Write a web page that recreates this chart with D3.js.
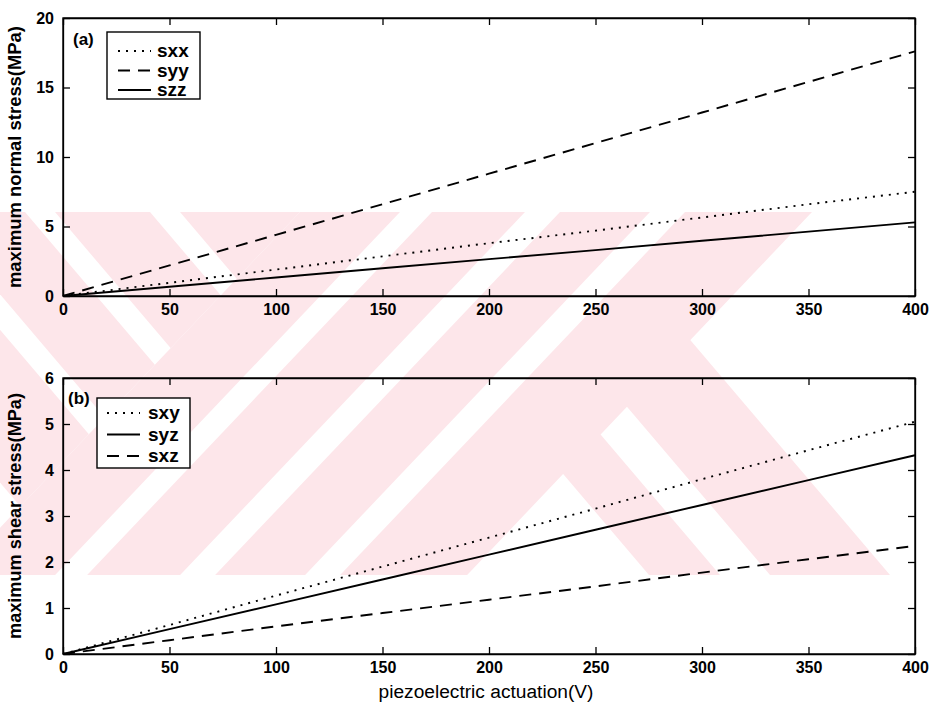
<!DOCTYPE html>
<html>
<head>
<meta charset="utf-8">
<script src="https://cdn.jsdelivr.net/npm/d3@7"></script>
<style>
  body { margin: 0; background: #fff; }
  text { font-family: "Liberation Sans", Arial, sans-serif; fill: #000; }
  .axis text { font-size: 16px; font-weight: bold; }
  .axis path, .axis line { stroke: #000; stroke-width: 1.3; }
  .title { font-size: 18px; font-weight: bold; }
  .legend text { font-size: 19px; font-weight: bold; }
</style>
</head>
<body>
<div id="chart"></div>
<script>
// values
var volts = [0, 50, 100, 150, 200, 250, 300, 350, 400];

var sxx = [0, 0.95, 1.9, 2.85, 3.8, 4.7, 5.65, 6.6, 7.5];
var syy = [0, 2.2, 4.4, 6.6, 8.8, 11.0, 13.2, 15.4, 17.6];
var szz = [0, 0.67, 1.33, 2.0, 2.65, 3.3, 3.97, 4.63, 5.3];

var sxy = [0, 0.63, 1.27, 1.9, 2.53, 3.16, 3.8, 4.43, 5.05];
var syz = [0, 0.54, 1.08, 1.62, 2.16, 2.7, 3.24, 3.78, 4.32];
var sxz = [0, 0.3, 0.6, 0.89, 1.18, 1.47, 1.77, 2.06, 2.35];

var xTicks = [0, 50, 100, 150, 200, 250, 300, 350, 400];
var normalTicks = [0, 5, 10, 15, 20];
var shearTicks = [0, 1, 2, 3, 4, 5, 6];

(function() {
  var width = 933, height = 717,
      left = 63, right = 915;

  var svg = d3.select("#chart")
    .append("svg")
    .attr("width", width)
    .attr("height", height);

  // pink stripes of the scanned watermark, behind everything
  drawWatermark(svg);

  var xPositionScale = d3.scaleLinear().domain([0, 400]).range([left, right]);

  var dash = { dotted: "2,6", dashed: "12,8", solid: null };

  var panels = [
    { top: 18, bottom: 296, max: 20, ticks: normalTicks, tag: "(a)",
      label: "maximum normal stress(MPa)", labelLen: 262,
      series: [
        { name: "sxx", values: sxx, style: "dotted" },
        { name: "syy", values: syy, style: "dashed" },
        { name: "szz", values: szz, style: "solid" }
      ],
      legend: { x: 107, y: 32, w: 93, h: 67, tagX: 73, tagY: 39, lineX: 118, textX: 157, rowY: 51, rowGap: 19.5 } },
    { top: 378, bottom: 654, max: 6, ticks: shearTicks, tag: "(b)",
      label: "maximum shear stress(MPa)", labelLen: 246,
      series: [
        { name: "sxy", values: sxy, style: "dotted" },
        { name: "syz", values: syz, style: "solid" },
        { name: "sxz", values: sxz, style: "dashed" }
      ],
      legend: { x: 97, y: 398, w: 93, h: 70, tagX: 68, tagY: 398, lineX: 107, textX: 148, rowY: 413, rowGap: 21.5 } }
  ];

  panels.forEach(function(p) {
    var yPositionScale = d3.scaleLinear().domain([0, p.max]).range([p.bottom, p.top]);
    var g = svg.append("g");

    // inward ticks on all four sides
    g.append("g").attr("class", "axis")
      .attr("transform", "translate(0," + p.bottom + ")")
      .call(d3.axisBottom(xPositionScale).tickValues(xTicks).tickSizeInner(-7).tickSizeOuter(0).tickPadding(8));
    g.append("g").attr("class", "axis")
      .attr("transform", "translate(0," + p.top + ")")
      .call(d3.axisTop(xPositionScale).tickValues(xTicks).tickSizeInner(-7).tickSizeOuter(0).tickFormat(""));
    g.append("g").attr("class", "axis")
      .attr("transform", "translate(" + left + ",0)")
      .call(d3.axisLeft(yPositionScale).tickValues(p.ticks).tickFormat(d3.format("d"))
        .tickSizeInner(-7).tickSizeOuter(0).tickPadding(9));
    g.append("g").attr("class", "axis")
      .attr("transform", "translate(" + right + ",0)")
      .call(d3.axisRight(yPositionScale).tickValues(p.ticks).tickSizeInner(-7).tickSizeOuter(0).tickFormat(""));

    g.append("rect")
      .attr("x", left).attr("y", p.top)
      .attr("width", right - left).attr("height", p.bottom - p.top)
      .attr("fill", "none").attr("stroke", "#000").attr("stroke-width", 1.4);

    var line = d3.line()
      .x(function(d, i) { return xPositionScale(volts[i]); })
      .y(function(d) { return yPositionScale(d); });

    g.selectAll(".series")
      .data(p.series)
      .enter().append("path")
      .attr("class", "series")
      .attr("d", function(d) { return line(d.values); })
      .attr("fill", "none")
      .attr("stroke", "#000")
      .attr("stroke-width", 1.9)
      .attr("stroke-dasharray", function(d) { return dash[d.style]; });

    // y title
    g.append("text")
      .attr("class", "title")
      .attr("transform", "translate(21," + (p.top + p.bottom) / 2 + ") rotate(-90)")
      .attr("text-anchor", "middle")
      .attr("textLength", p.labelLen)
      .attr("lengthAdjust", "spacingAndGlyphs")
      .text(p.label);

    // legend
    var L = p.legend;
    g.append("text").attr("class", "title")
      .attr("x", L.tagX).attr("y", L.tagY).attr("dy", "0.35em")
      .style("font-size", "17px")
      .text(p.tag);

    var lg = g.append("g").attr("class", "legend");
    lg.append("rect")
      .attr("x", L.x).attr("y", L.y).attr("width", L.w).attr("height", L.h)
      .attr("fill", "#fff").attr("stroke", "#000").attr("stroke-width", 1.4);

    var rows = lg.selectAll(".row")
      .data(p.series)
      .enter().append("g")
      .attr("class", "row")
      .attr("transform", function(d, i) { return "translate(0," + (L.rowY + i * L.rowGap) + ")"; });

    rows.append("line")
      .attr("x1", L.lineX).attr("x2", L.lineX + 33)
      .attr("stroke", "#000").attr("stroke-width", 1.8)
      .attr("stroke-dasharray", function(d) { return dash[d.style]; });

    rows.append("text")
      .attr("x", L.textX).attr("dy", "0.32em")
      .text(function(d) { return d.name; });
  });

  svg.append("text")
    .attr("x", 486)
    .attr("y", 698)
    .attr("text-anchor", "middle")
    .attr("textLength", 215)
    .attr("lengthAdjust", "spacingAndGlyphs")
    .style("font-size", "18px")
    .text("piezoelectric actuation(V)");

  function drawWatermark(svg) {
    var y0 = 212, y1 = 575, h = y1 - y0,
        sl = 0.95, sb = 0.85, pink = "#fde6ea";
    var defs = svg.append("defs");

    defs.append("clipPath").attr("id", "band")
      .append("rect").attr("x", 0).attr("y", y0).attr("width", 890).attr("height", h);
    defs.append("clipPath").attr("id", "upleft")
      .append("polygon").attr("points", [[-600, y0], [300, y0], [300 - sl * h, y1], [-600, y1]].join(" "));
    defs.append("clipPath").attr("id", "right")
      .append("polygon").attr("points", [[810, y0], [1200, y0], [1200, y1], [810 - sl * h, y1]].join(" "));

    var wm = svg.append("g").attr("clip-path", "url(#band)");

    // "/" bands, given by x at the top edge
    [[300, 400], [432, 525], [560, 650], [685, 812]].forEach(function(b) {
      wm.append("polygon").attr("fill", pink)
        .attr("points", [[b[0], y0], [b[1], y0], [b[1] - sl * h, y1], [b[0] - sl * h, y1]].join(" "));
    });

    // "\" bands in the upper left, given by x at the top edge
    var ul = wm.append("g").attr("clip-path", "url(#upleft)");
    [[-230, -100], [-70, 25], [55, 150], [180, 320]].forEach(function(b) {
      ul.append("polygon").attr("fill", pink)
        .attr("points", [[b[0], y0], [b[1], y0], [b[1] + sb * h, y1], [b[0] + sb * h, y1]].join(" "));
    });

    // "\" bands on the right, given by x at the bottom edge
    var rt = wm.append("g").attr("clip-path", "url(#right)");
    [[649, 720], [770, 890]].forEach(function(b) {
      rt.append("polygon").attr("fill", pink)
        .attr("points", [[b[0] - sb * h, y0], [b[1] - sb * h, y0], [b[1], y1], [b[0], y1]].join(" "));
    });
  }
})();
</script>
</body>
</html>
